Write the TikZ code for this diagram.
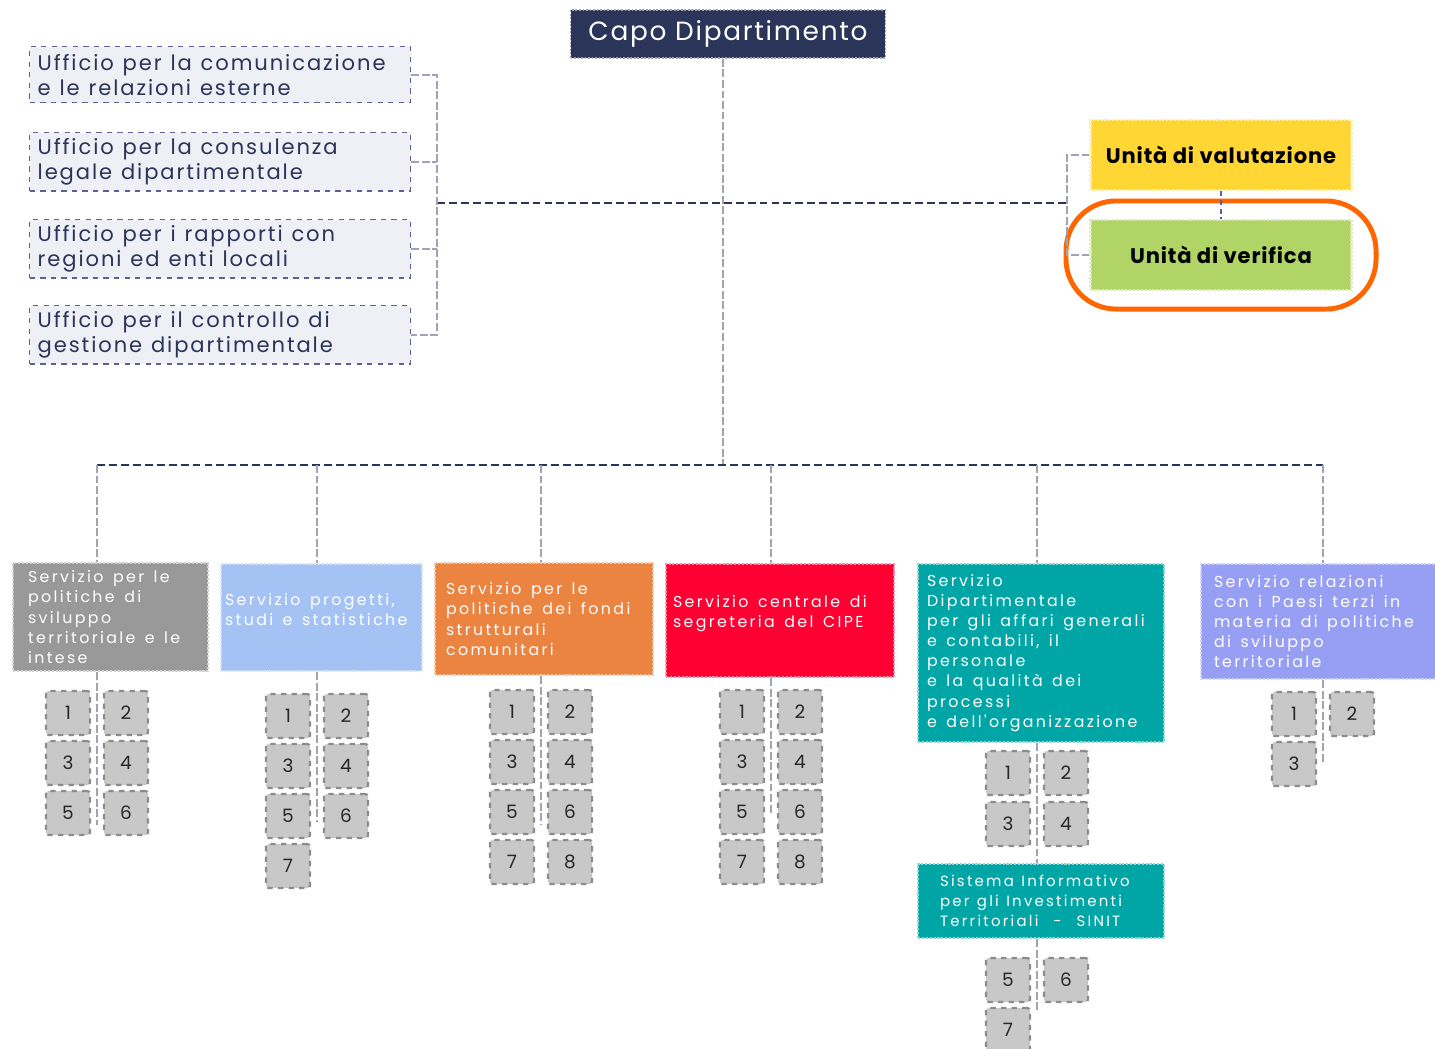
\documentclass[tikz,border=0pt]{standalone}
\usepackage{fontspec}
\setmainfont{Poppins}
\newfontfamily\headfont[LetterSpace=6.5]{Poppins}
\newfontfamily\officefont[LetterSpace=9]{Poppins}
\newfontfamily\unitfont[LetterSpace=4]{Poppins}
\newfontfamily\servicefont[LetterSpace=15]{Poppins}
\newcommand\officespacing{\fontsize{12}{14.2}\selectfont\spaceskip 0.42em plus 0.1em minus 0.12em\relax}
\newcommand\servicespacing{\fontsize{9}{11.4}\selectfont\spaceskip 0.6em plus 0.1em minus 0.18em\relax}
\newcommand\sinitspacing{\fontsize{8.5}{11.4}\selectfont\spaceskip 0.5em plus 0.1em minus 0.15em\relax}
\usetikzlibrary{fit}

\definecolor{navy}{HTML}{2B3459}
\definecolor{officebg}{HTML}{EEF0F5}
\definecolor{officeline}{HTML}{5F5F94}
\definecolor{linkgrey}{HTML}{A0A3B5}
\definecolor{unityellow}{HTML}{FFD633}
\definecolor{unitgreen}{HTML}{B0D465}
\definecolor{marker}{HTML}{FF6600}
\definecolor{svgrey}{HTML}{999999}
\definecolor{svblue}{HTML}{A4C2F4}
\definecolor{svorange}{HTML}{EB8341}
\definecolor{svred}{HTML}{FF0033}
\definecolor{svteal}{HTML}{00A6A6}
\definecolor{svviolet}{HTML}{979FF5}
\definecolor{numfill}{HTML}{C8C8C8}
\definecolor{numline}{HTML}{8C8C8C}

\begin{document}
\begin{tikzpicture}[x=0.02cm, y=-0.02cm,
        head/.style={rectangle, draw=linkgrey, densely dotted, line width=1pt, fill=navy, text=white, minimum width=6.3cm, minimum height=0.96cm, font=\headfont\fontsize{15}{18}\selectfont},
        office/.style={rectangle, draw=officeline, dashed, line width=0.8pt, fill=officebg, text=navy, anchor=north west, inner xsep=0.16cm, text width=7.3cm, minimum height=1.12cm, align=flush left, font=\officefont\officespacing},
        unit/.style={rectangle, densely dotted, line width=1.2pt, text=black, minimum width=5.22cm, minimum height=1.4cm, font=\unitfont\fontsize{12}{14}\selectfont\bfseries},
        service/.style={rectangle, densely dotted, line width=1.2pt, text=white, anchor=north west, align=flush left, font=\servicefont\servicespacing},
        numbox/.style={rectangle, draw=numline, fill=numfill, dashed, line width=1.3pt, rounded corners=1.5pt, minimum size=0.88cm, inner sep=0pt, text=black!85, font=\fontsize{10.5}{12}\selectfont},
        bus/.style={draw=navy, line width=1.1pt, dash pattern=on 4.5pt off 2.3pt},
        drop/.style={draw=linkgrey, line width=1.1pt, dash pattern=on 4.5pt off 1.5pt},
        bracket/.style={draw=linkgrey, line width=1.1pt, dash pattern=on 4.5pt off 1.5pt},
        highlight/.style={draw=marker, line width=2.8pt, rounded corners=1cm, inner xsep=0.47cm, inner ysep=0.36cm}
    ]
    \useasboundingbox (0,0) rectangle (1435,1048);

    % Head of department
    \node[head] (capo) at (728,34) {Capo Dipartimento};

    % Staff offices
    \node[office] (uff1) at (29,46) {Ufficio per la comunicazione\\e le relazioni esterne};
    \node[office] (uff2) at (29,132) {Ufficio per la consulenza\\legale dipartimentale};
    \node[office] (uff3) at (29,219) {Ufficio per i rapporti con\\regioni ed enti locali};
    \node[office] (uff4) at (29,305) {Ufficio per il controllo di\\gestione dipartimentale};

    % Units
    \node[unit, fill=unityellow, draw=unityellow!45!white] (valut) at (1221,155) {Unità di valutazione};
    \node[unit, fill=unitgreen, draw=unitgreen!45!white] (verif) at (1221,255) {Unità di verifica};
    \node[highlight, fit=(verif)] (mark) {};

    % Services
    \node[service, fill=svgrey, draw=svgrey!45!white, inner xsep=0.3cm, text width=3.3cm, minimum height=2.16cm] (s1) at (12,562) {Servizio per le\\politiche di\\sviluppo\\territoriale e le\\intese};
    \node[service, fill=svblue, draw=svblue!45!white, inner xsep=0.08cm, text width=3.86cm, minimum height=2.14cm, text depth=0.72cm] (s2) at (220,563) {Servizio progetti,\\studi e statistiche};
    \node[service, fill=svorange, draw=svorange!45!white, inner xsep=0.22cm, text width=3.92cm, minimum height=2.24cm] (s3) at (434,562) {Servizio per le\\politiche dei fondi\\strutturali\\comunitari};
    \node[service, fill=svred, draw=svred!45!white, inner xsep=0.14cm, text width=4.28cm, minimum height=2.26cm, text depth=0.76cm] (s4) at (665,563) {Servizio centrale di\\segreteria del CIPE};
    \node[service, fill=svteal, draw=svteal!45!white, inner xsep=0.18cm, text width=4.56cm, minimum height=3.56cm] (s5) at (917,563) {Servizio\\Dipartimentale\\per gli affari generali\\e contabili, il\\personale\\e la qualità dei\\processi\\e dell'organizzazione};
    \node[service, fill=svviolet, draw=svviolet!45!white, inner xsep=0.26cm, text width=4.18cm, minimum height=2.3cm] (s6) at (1200,563) {Servizio relazioni\\con i Paesi terzi in\\materia di politiche\\di sviluppo\\territoriale};
    \node[service, fill=svteal, draw=svteal!45!white, inner xsep=0.44cm, text width=4.04cm, minimum height=1.48cm, font=\servicefont\sinitspacing] (sinit) at (917,863) {Sistema Informativo\\per gli Investimenti\\Territoriali\ \ -\ \ SINIT};

    % Numbered sections
    \foreach \g/\dx/\top/\cnt in {1/97/713/6, 2/317/716/7, 3/541/712/8, 4/771/712/8, 6/1323/714/3} {
        \foreach \n in {1,...,\cnt} {
            \pgfmathtruncatemacro\col{mod(\n-1,2)}
            \pgfmathtruncatemacro\row{(\n-1)/2}
            \node[numbox] (g\g n\n) at ({\dx-29+58*\col},{\top+50*\row}) {\n};
        }
    }
    \node[numbox] (g5n1) at (1008,773) {1};
    \node[numbox] (g5n2) at (1066,773) {2};
    \node[numbox] (g5n3) at (1008,824) {3};
    \node[numbox] (g5n4) at (1066,824) {4};
    \node[numbox] (g5n5) at (1008,980) {5};
    \node[numbox] (g5n6) at (1066,980) {6};
    \node[numbox] (g5n7) at (1008,1030) {7};

    % Connection points
    \coordinate (hub) at (723,465);
    \coordinate (lb) at (437,203);
    \coordinate (rb) at (1067,203);
    \coordinate (d1) at (97,465);
    \coordinate (d2) at (317,465);
    \coordinate (d3) at (541,465);
    \coordinate (d4) at (771,465);
    \coordinate (d5) at (1037,465);
    \coordinate (d6) at (1323,465);
    \coordinate (e1) at (97,825);
    \coordinate (e2) at (317,822);
    \coordinate (e3) at (541,825);
    \coordinate (e4) at (771,815);
    \coordinate (e6) at (1323,763);
    \coordinate (e7) at (1037,1012);

    % Connectors
    \draw[drop] (capo.south -| hub) -- (hub);
    \draw[bus] (lb) -- (rb);
    \draw[bracket] (uff1.east) -- (uff1.east -| lb) -- (uff4.east -| lb) -- (uff4.east);
    \draw[bracket] (uff2.east) -- (uff2.east -| lb);
    \draw[bracket] (uff3.east) -- (uff3.east -| lb);
    \draw[bracket] (valut.west) -- (valut.west -| rb) -- (verif.west -| rb) -- (verif.west);
    \draw[drop, draw=officeline, densely dashed] (valut.south) -- (verif.north);
    \draw[bus] (d1) -- (d6);
    \foreach \i in {1,...,6} {
        \draw[drop] (d\i) -- (d\i |- s\i.north);
    }
    \draw[drop] (s1.south -| e1) -- (e1);
    \draw[drop] (s2.south -| e2) -- (e2);
    \draw[drop] (s3.south -| e3) -- (e3);
    \draw[drop] (s4.south -| e4) -- (e4);
    \draw[drop] (s5.south -| d5) -- (sinit.north -| d5);
    \draw[drop] (s6.south -| e6) -- (e6);
    \draw[drop] (sinit.south -| e7) -- (e7);

\end{tikzpicture}
\end{document}
